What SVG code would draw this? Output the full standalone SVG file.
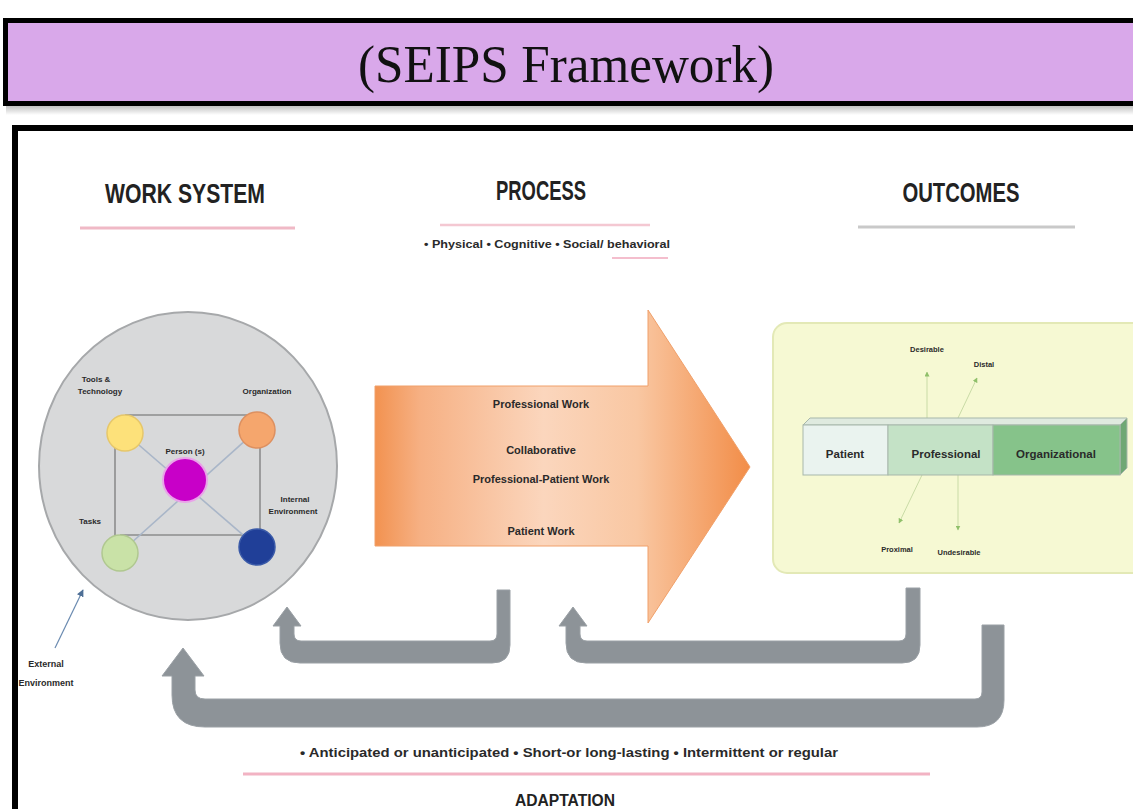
<svg xmlns="http://www.w3.org/2000/svg" width="1133" height="809" viewBox="0 0 1133 809">
<defs>
<linearGradient id="orangeGrad" x1="375" y1="0" x2="750" y2="0" gradientUnits="userSpaceOnUse">
<stop offset="0" stop-color="#f29250"/>
<stop offset="0.12" stop-color="#f6b083"/>
<stop offset="0.45" stop-color="#fbd6bd"/>
<stop offset="0.7" stop-color="#f9c7a2"/>
<stop offset="1" stop-color="#f28d48"/>
</linearGradient>
<linearGradient id="shadowGrad" x1="0" y1="0" x2="0" y2="1">
<stop offset="0" stop-color="#777"/>
<stop offset="1" stop-color="#fff"/>
</linearGradient>
<marker id="tinyArrow" viewBox="0 0 10 10" refX="9" refY="5" markerWidth="5" markerHeight="5" orient="auto">
<path d="M0,0 L10,5 L0,10 Z" fill="#8fc06a"/>
</marker>
<marker id="blueArrow" viewBox="0 0 10 10" refX="9" refY="5" markerWidth="6" markerHeight="6" orient="auto">
<path d="M0,0 L10,5 L0,10 Z" fill="#4e6f96"/>
</marker>
</defs>
<style>
.hdr{font-family:"Liberation Sans",Arial,sans-serif;font-weight:bold;fill:#222;text-anchor:middle}
.lbl{font-family:"Liberation Sans",Arial,sans-serif;font-weight:bold;fill:#2a2a2a;text-anchor:middle}
.net{stroke:#8d8d8d;stroke-width:1.6;fill:none}
.diag{stroke:#a9b6c8;stroke-width:1.6;fill:none}
.fb{fill:#8d9398;stroke:#9aa0a5;stroke-width:1}
.olink{stroke:#c9dba6;stroke-width:1;fill:none}
</style>
<rect width="1133" height="809" fill="#ffffff"/>

<g id="title">
<rect x="6" y="103" width="1135" height="12" fill="url(#shadowGrad)" opacity="0.6"/>
<rect x="5.5" y="20.5" width="1135" height="83" fill="#d9a8ea" stroke="#000" stroke-width="5"/>
<text x="566" y="82" font-family="'Liberation Serif','Times New Roman',serif" font-size="52" fill="#111" text-anchor="middle" textLength="416" lengthAdjust="spacingAndGlyphs">(SEIPS Framework)</text>
</g>

<g id="frame">
<rect x="15" y="128" width="1130" height="700" fill="#ffffff" stroke="#000" stroke-width="6"/>
</g>

<g id="headers">
<text class="hdr" x="185" y="203" font-size="28" textLength="160" lengthAdjust="spacingAndGlyphs">WORK SYSTEM</text>
<line x1="80" y1="228" x2="295" y2="228" stroke="#f0b9c6" stroke-width="3"/>
<text class="hdr" x="541" y="200" font-size="28" textLength="90" lengthAdjust="spacingAndGlyphs">PROCESS</text>
<line x1="440" y1="225" x2="650" y2="225" stroke="#f4c8d2" stroke-width="2.5"/>
<text class="lbl" x="547" y="248" font-size="11" textLength="246" lengthAdjust="spacingAndGlyphs">• Physical • Cognitive • Social/ behavioral</text>
<line x1="612" y1="258" x2="668" y2="258" stroke="#f0a8bc" stroke-width="1.5"/>
<text class="hdr" x="961" y="202" font-size="28" textLength="117" lengthAdjust="spacingAndGlyphs">OUTCOMES</text>
<line x1="858" y1="227" x2="1075" y2="227" stroke="#c9c9c9" stroke-width="3"/>
</g>

<g id="work-system">
<ellipse cx="188" cy="466" rx="149" ry="154" fill="#d8d9da" stroke="#a6a8aa" stroke-width="2"/>
<line class="net" x1="125" y1="415" x2="257" y2="415"/>
<line class="net" x1="120" y1="535" x2="257" y2="535"/>
<line class="net" x1="115" y1="433" x2="115" y2="553"/>
<line class="net" x1="260" y1="430" x2="260" y2="547"/>
<line class="diag" x1="125" y1="433" x2="257" y2="547"/>
<line class="diag" x1="257" y1="430" x2="120" y2="553"/>
<circle cx="125" cy="433" r="18" fill="#fde17a" stroke="#e6c76a" stroke-width="1.5"/>
<circle cx="257" cy="430" r="18" fill="#f5a66d" stroke="#dd9060" stroke-width="1.5"/>
<circle cx="185" cy="480" r="22" fill="#c800c8" stroke="#e9a3e9" stroke-width="2"/>
<circle cx="120" cy="553" r="18" fill="#c9e2a7" stroke="#b0c890" stroke-width="1.5"/>
<circle cx="257" cy="547" r="18" fill="#203f98" stroke="#3a5aa8" stroke-width="1.5"/>
<text class="lbl" x="96" y="382" font-size="8">Tools &amp;</text>
<text class="lbl" x="100" y="394" font-size="8">Technology</text>
<text class="lbl" x="267" y="394" font-size="8">Organization</text>
<text class="lbl" x="185" y="454" font-size="8">Person (s)</text>
<text class="lbl" x="295" y="502" font-size="8">Internal</text>
<text class="lbl" x="293" y="514" font-size="8">Environment</text>
<text class="lbl" x="90" y="524" font-size="8">Tasks</text>
</g>

<g id="external-environment">
<line x1="55" y1="648" x2="83" y2="590" stroke="#6a8ab0" stroke-width="1.2" marker-end="url(#blueArrow)"/>
<text class="lbl" x="46" y="667" font-size="9">External</text>
<text class="lbl" x="46" y="686" font-size="9">Environment</text>
</g>

<g id="process">
<path d="M375,386 L648,386 L648,310 L750,467 L648,623 L648,546 L375,546 Z" fill="url(#orangeGrad)" stroke="#f0a06a" stroke-width="1"/>
<text class="lbl" x="541" y="408" font-size="11">Professional Work</text>
<text class="lbl" x="541" y="454" font-size="11">Collaborative</text>
<text class="lbl" x="541" y="483" font-size="11">Professional-Patient Work</text>
<text class="lbl" x="541" y="535" font-size="11">Patient Work</text>
</g>

<g id="outcomes">
<rect x="773" y="323" width="380" height="250" rx="14" fill="#f6f9d3" stroke="#e3e9b6" stroke-width="2"/>
<line class="olink" x1="927" y1="418" x2="927" y2="372" marker-end="url(#tinyArrow)"/>
<line class="olink" x1="958" y1="418" x2="977" y2="378" marker-end="url(#tinyArrow)"/>
<line class="olink" x1="922" y1="475" x2="899" y2="523" marker-end="url(#tinyArrow)"/>
<line class="olink" x1="958" y1="475" x2="958" y2="530" marker-end="url(#tinyArrow)"/>
<polygon points="803,425 810,418 1127,418 1120,425" fill="#dfeadf" stroke="#a7b7ab" stroke-width="1"/>
<polygon points="1120,425 1127,418 1127,468 1120,475" fill="#6fa874" stroke="#a7b7ab" stroke-width="1"/>
<rect x="803" y="425" width="85" height="50" fill="#eaf3ef" stroke="#a7b7ab" stroke-width="1"/>
<rect x="888" y="425" width="105" height="50" fill="#c4e2c6" stroke="#a7b7ab" stroke-width="1"/>
<rect x="993" y="425" width="127" height="50" fill="#86c38a" stroke="#a7b7ab" stroke-width="1"/>
<text class="lbl" x="845" y="458" font-size="11.5">Patient</text>
<text class="lbl" x="946" y="458" font-size="11.5">Professional</text>
<text class="lbl" x="1056" y="458" font-size="11.5">Organizational</text>
<text class="lbl" x="927" y="352" font-size="7.5">Desirable</text>
<text class="lbl" x="984" y="367" font-size="7.5">Distal</text>
<text class="lbl" x="897" y="552" font-size="7.5">Proximal</text>
<text class="lbl" x="959" y="555" font-size="7.5">Undesirable</text>
</g>

<g id="connectors">
<path class="fb" d="M497,590 L510,590 L510,645 Q510,663 492,663 L300,663 Q280,663 280,643 L280,626 L273,626 L287,607 L301,626 L294,626 L294,634 Q294,641 301,641 L490,641 Q497,641 497,634 Z"/>
<path class="fb" d="M906,588 L920,588 L920,645 Q920,663 902,663 L586,663 Q566,663 566,643 L566,626 L559,626 L573,607 L587,626 L580,626 L580,634 Q580,641 587,641 L899,641 Q906,641 906,634 Z"/>
<path class="fb" d="M982,625 L1004,625 L1004,700 Q1004,727 977,727 L205,727 Q172,727 172,695 L172,676 L162,676 L183,648 L204,676 L195,676 L195,690 Q195,699 205,699 L975,699 Q982,699 982,692 Z"/>
</g>

<g id="adaptation">
<text class="lbl" x="569" y="757" font-size="12" textLength="538" lengthAdjust="spacingAndGlyphs">• Anticipated or unanticipated • Short-or long-lasting • Intermittent or regular</text>
<line x1="243" y1="774" x2="930" y2="774" stroke="#f2b3c3" stroke-width="3"/>
<text class="hdr" x="565" y="806" font-size="16" textLength="100" lengthAdjust="spacingAndGlyphs">ADAPTATION</text>
</g>
</svg>
